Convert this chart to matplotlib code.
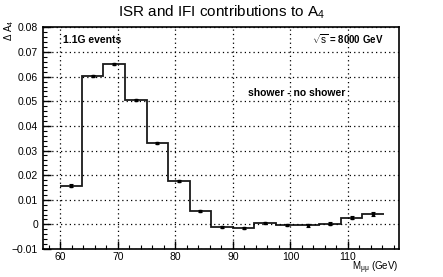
import numpy as np
import matplotlib
matplotlib.use("Agg")
import matplotlib.pyplot as plt
from matplotlib.ticker import MultipleLocator, FuncFormatter

plt.rcParams['font.family'] = ['Liberation Sans', 'DejaVu Sans']
plt.rcParams['mathtext.fontset'] = 'custom'
plt.rcParams['mathtext.rm'] = 'Liberation Sans'
plt.rcParams['mathtext.it'] = 'Liberation Sans'

# bin edges in M_mumu (GeV)
bin_edges = [60.0, 63.75, 67.5, 71.25, 75.0, 78.75, 82.5, 86.25, 90.0,
             93.75, 97.5, 101.25, 105.0, 108.75, 112.5, 116.25]
# delta A4 per bin (shower - no shower)
delta_a4 = [0.0157, 0.0603, 0.0652, 0.0507, 0.0331, 0.0175, 0.0056, -0.0010,
            -0.0016, 0.0004, -0.0002, -0.0004, 0.0003, 0.0028, 0.0041]
delta_err = [0.0007, 0.0005, 0.0005, 0.0004, 0.0004, 0.0004, 0.0004, 0.0004,
             0.0004, 0.0004, 0.0004, 0.0005, 0.0006, 0.0008, 0.0008]

edges = np.array(bin_edges)
vals = np.array(delta_a4)
centers = 0.5 * (edges[:-1] + edges[1:])

fig = plt.figure(figsize=(4.43, 2.77), dpi=100)
ax = fig.add_axes([0.097, 0.101, 0.804, 0.80])

ax.stairs(vals, edges, color='#1a1a1a', linewidth=1.3, baseline=None)
ax.errorbar(centers, vals, yerr=delta_err, fmt='s', color='black',
            markersize=2.0, capsize=1.6, elinewidth=0.8, capthick=0.8)

ax.set_xlim(57.0, 118.9)
ax.set_ylim(-0.01, 0.08)
ax.xaxis.set_major_locator(MultipleLocator(10))
ax.xaxis.set_minor_locator(MultipleLocator(2))
ax.yaxis.set_major_locator(MultipleLocator(0.01))
ax.yaxis.set_minor_locator(MultipleLocator(0.002))

def yfmt(v, pos):
    if abs(v) < 1e-9:
        return '0'
    return f'{v:.2f}'.replace('-', '\u2212')

ax.yaxis.set_major_formatter(FuncFormatter(yfmt))
ax.tick_params(which='both', direction='in', top=False, right=False,
               labelsize=7.5, color='black')
ax.tick_params(which='major', length=6, width=1)
ax.tick_params(which='minor', length=3, width=0.8)
ax.tick_params(axis='x', pad=2.5)
for s in ax.spines.values():
    s.set_linewidth(1.2)

ax.grid(True, which='major', linestyle=(0, (1, 2.5)), color='black', linewidth=0.9)

fig.text(0.5, 0.955, r'ISR and IFI contributions to A$_4$', ha='center', va='center',
         fontsize=11)
fig.text(0.02, 0.89, r'$\Delta$ A$_4$', rotation=90, ha='center', va='center',
         fontsize=7)
fig.text(0.9, 0.035, r'M$_{\mu\mu}$ (GeV)', ha='right', va='center', fontsize=7)

ax.text(0.055, 0.945, '1.1G events', transform=ax.transAxes, fontsize=7.5,
        fontweight='bold', va='center', ha='left')
ax.text(0.755, 0.945, r'$\sqrt{s}$ = 8000 GeV', transform=ax.transAxes, fontsize=7,
        fontweight='bold', va='center', ha='left')
ax.text(0.85, 0.705, 'shower - no shower', transform=ax.transAxes, fontsize=7.5,
        fontweight='bold', va='center', ha='right')

fig.savefig('out.png', dpi=100)
